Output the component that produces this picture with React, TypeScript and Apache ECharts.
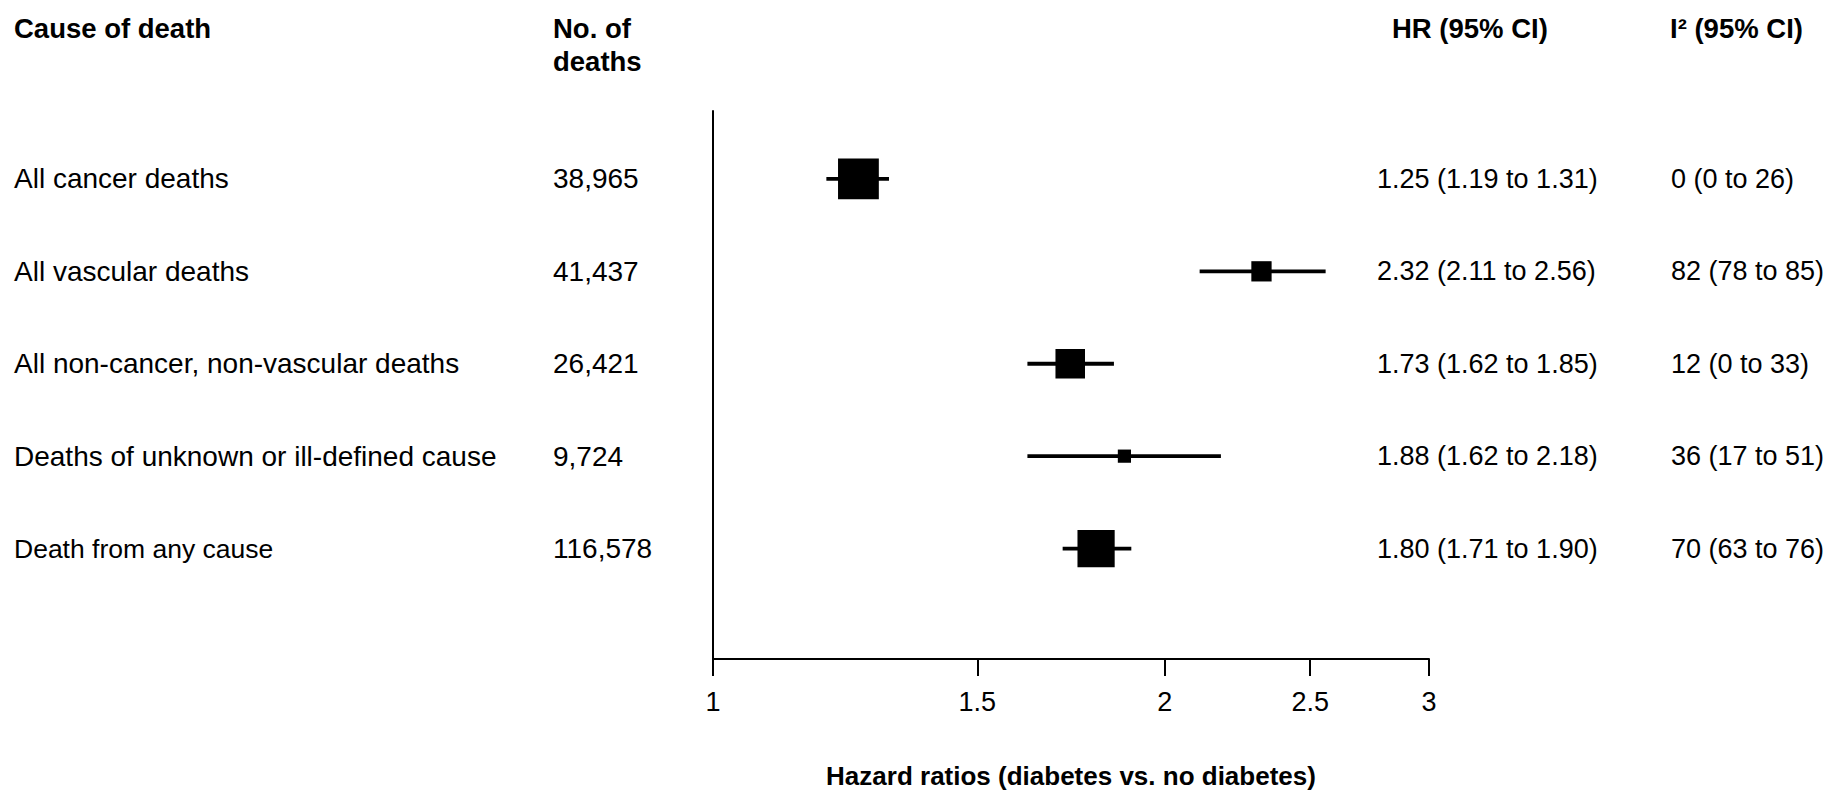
import React, { useEffect, useRef } from "react";
import * as echarts from "echarts";

// ---- Data ----
const causes = [
  "All cancer deaths",
  "All vascular deaths",
  "All non-cancer, non-vascular deaths",
  "Deaths of unknown or ill-defined cause",
  "Death from any cause",
];
const deaths = ["38,965", "41,437", "26,421", "9,724", "116,578"];
const hr = [1.25, 2.32, 1.73, 1.88, 1.8];
const hrLow = [1.19, 2.11, 1.62, 1.62, 1.71];
const hrHigh = [1.31, 2.56, 1.85, 2.18, 1.9];
const i2 = [0, 82, 12, 36, 70];
const i2Low = [0, 78, 0, 17, 63];
const i2High = [26, 85, 33, 51, 76];
const xTicks = [1, 1.5, 2, 2.5, 3];
const xTickLabels = ["1", "1.5", "2", "2.5", "3"];

const FONT = '"Liberation Sans", Arial, Helvetica, sans-serif';
const FS = 27;

export default function App() {
  const ref = useRef<HTMLDivElement>(null);

  useEffect(() => {
    document.body.style.margin = "0";
    if (!ref.current) return;
    const chart = echarts.init(ref.current, undefined, { renderer: "svg" });

    const rows = causes.map((_, i) => i);
    const hrText = hr.map(
      (v, i) => `${v.toFixed(2)} (${hrLow[i].toFixed(2)} to ${hrHigh[i].toFixed(2)})`
    );
    const i2Text = i2.map((v, i) => `${v} (${i2Low[i]} to ${i2High[i]})`);

    // square side ~ precision (1 / standard error of log HR)
    const seriesData = hr.map((v, i) => {
      const se = (Math.log(hrHigh[i]) - Math.log(hrLow[i])) / (2 * 1.96);
      return [Math.log(v), i, Math.log(hrLow[i]), Math.log(hrHigh[i]), 1 / se];
    });

    const baseY = {
      type: "value",
      inverse: true,
      min: -0.735,
      max: 5.195,
      splitLine: { show: false },
      axisTick: { show: false },
    };

    const labelStyle = {
      color: "#000",
      fontFamily: FONT,
      fontSize: FS,
      align: "left",
      verticalAlign: "middle",
    };

    const headerStyle = {
      fill: "#000",
      fontFamily: FONT,
      fontSize: 27.5,
      fontWeight: "bold",
      align: "left",
      verticalAlign: "middle",
    };

    const option: any = {
      animation: false,
      backgroundColor: "#fff",
      grid: {
        left: 713,
        right: 402,
        top: 111,
        bottom: 132,
        containLabel: false,
        outerBoundsMode: "none",
      },
      xAxis: {
        type: "value",
        min: Math.log(xTicks[0]),
        max: Math.log(xTicks[xTicks.length - 1]),
        splitLine: { show: false },
        axisLine: { show: true, onZero: false, lineStyle: { color: "#000", width: 2 } },
        axisTick: {
          show: true,
          length: 17,
          lineStyle: { color: "#000", width: 2 },
          customValues: xTicks.map((t) => Math.log(t)),
        },
        axisLabel: {
          show: true,
          margin: 29,
          color: "#000",
          fontFamily: FONT,
          fontSize: FS,
          customValues: xTicks.map((t) => Math.log(t)),
          formatter: (v: number) => {
            let best = 0;
            xTicks.forEach((t, k) => {
              if (Math.abs(Math.log(t) - v) < Math.abs(Math.log(xTicks[best]) - v)) best = k;
            });
            return xTickLabels[best];
          },
        },
        name: "Hazard ratios (diabetes vs. no diabetes)",
        nameLocation: "middle",
        nameGap: 104,
        nameTextStyle: {
          color: "#000",
          fontFamily: FONT,
          fontSize: 26,
          fontWeight: "bold",
        },
      },
      yAxis: [
        {
          ...baseY,
          position: "left",
          axisLine: { show: true, onZero: false, lineStyle: { color: "#000", width: 2 } },
          axisLabel: {
            ...labelStyle,
            fontSize: 28,
            margin: 699,
            customValues: rows,
            formatter: (v: number) => {
              const k = Math.round(v);
              return k === causes.length - 1 ? `{s|${causes[k]}}` : causes[k];
            },
            rich: { s: { fontFamily: FONT, fontSize: 26.5, color: "#000" } },
          },
        },
        {
          ...baseY,
          position: "left",
          axisLine: { show: false },
          axisLabel: {
            ...labelStyle,
            fontSize: 28,
            margin: 160,
            customValues: rows,
            formatter: (v: number) => deaths[Math.round(v)],
          },
        },
        {
          ...baseY,
          position: "right",
          axisLine: { show: false },
          axisLabel: {
            ...labelStyle,
            margin: -52,
            customValues: rows,
            formatter: (v: number) => hrText[Math.round(v)],
          },
        },
        {
          ...baseY,
          position: "right",
          axisLine: { show: false },
          axisLabel: {
            ...labelStyle,
            margin: 242,
            customValues: rows,
            formatter: (v: number) => i2Text[Math.round(v)],
          },
        },
      ],
      graphic: [
        { type: "text", x: 14, y: 28, style: { ...headerStyle, text: "Cause of death" } },
        { type: "text", x: 553, y: 28, style: { ...headerStyle, text: "No. of" } },
        { type: "text", x: 553, y: 61, style: { ...headerStyle, text: "deaths" } },
        { type: "text", x: 1392, y: 28, style: { ...headerStyle, text: "HR (95% CI)" } },
        { type: "text", x: 1670, y: 28, style: { ...headerStyle, text: "I\u00B2 (95% CI)" } },
      ],
      series: [
        {
          type: "custom",
          xAxisIndex: 0,
          yAxisIndex: 0,
          clip: false,
          data: seriesData,
          encode: { x: [0, 2, 3], y: 1 },
          renderItem: (params: any, api: any) => {
            const y = api.value(1);
            const pc = api.coord([api.value(0), y]);
            const pl = api.coord([api.value(2), y]);
            const ph = api.coord([api.value(3), y]);
            const s = api.value(4);
            return {
              type: "group",
              children: [
                {
                  type: "line",
                  shape: { x1: pl[0], y1: pl[1], x2: ph[0], y2: ph[1] },
                  style: { stroke: "#000", lineWidth: 3.8 },
                },
                {
                  type: "rect",
                  shape: { x: pc[0] - s / 2, y: pc[1] - s / 2, width: s, height: s },
                  style: { fill: "#000" },
                },
              ],
            };
          },
        },
      ],
    };

    chart.setOption(option);
    return () => chart.dispose();
  }, []);

  return <div ref={ref} style={{ width: 1831, height: 791 }} />;
}
